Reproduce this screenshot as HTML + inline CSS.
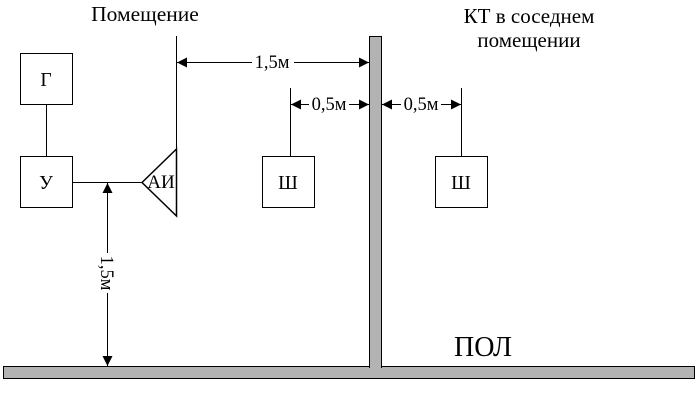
<!DOCTYPE html>
<html><head><meta charset="utf-8"><style>
html,body{margin:0;padding:0;background:#fff;}
svg{display:block;}
text{font-family:"Liberation Serif","DejaVu Serif",serif;fill:#000;}
</style></head><body>
<svg width="698" height="414" viewBox="0 0 698 414" xmlns="http://www.w3.org/2000/svg">
<defs>
<marker id="a" viewBox="0 0 10 10" refX="10" refY="5" markerWidth="10" markerHeight="10" markerUnits="userSpaceOnUse" orient="auto-start-reverse">
<path d="M0,0 L10,5 L0,10 z" fill="#000"/></marker>
</defs>
<rect x="3.5" y="366.5" width="691" height="12" fill="#b3b3b3" stroke="#000" stroke-width="1"/>
<rect x="369.5" y="36.5" width="12" height="331" fill="#b3b3b3" stroke="#000" stroke-width="1"/>
<rect x="370" y="364" width="11" height="4" fill="#b3b3b3"/>
<g fill="#fff" stroke="#000" stroke-width="1">
<rect x="20.5" y="53.5" width="52" height="51"/>
<rect x="20.5" y="156.5" width="52" height="51"/>
<rect x="262.5" y="156.5" width="52" height="51"/>
<rect x="435.5" y="156.5" width="52" height="51"/>
</g>
<g stroke="#000" stroke-width="1" fill="none">
<line x1="46.5" y1="104" x2="46.5" y2="156"/>
<line x1="72" y1="182.5" x2="142" y2="182.5"/>
<line x1="176.5" y1="36" x2="176.5" y2="148"/>
<polygon points="142,182.5 176.5,149 176.5,216" fill="#fff" stroke-width="1.5"/>
<line x1="290.5" y1="88" x2="290.5" y2="156"/>
<line x1="461.5" y1="88" x2="461.5" y2="156"/>
<line x1="177" y1="62.5" x2="369" y2="62.5" marker-start="url(#a)" marker-end="url(#a)"/>
<line x1="291" y1="104.5" x2="369" y2="104.5" marker-start="url(#a)" marker-end="url(#a)"/>
<line x1="382" y1="104.5" x2="461" y2="104.5" marker-start="url(#a)" marker-end="url(#a)"/>
<line x1="107.5" y1="183" x2="107.5" y2="366" marker-start="url(#a)" marker-end="url(#a)"/>
</g>
<rect x="252" y="52" width="42" height="20" fill="#fff"/>
<rect x="309" y="94" width="40" height="20" fill="#fff"/>
<rect x="401" y="94" width="40" height="20" fill="#fff"/>
<rect x="97" y="253" width="20" height="40" fill="#fff"/>
<text x="272" y="68" font-size="18.5" text-anchor="middle">1,5м</text>
<text x="329" y="110" font-size="18.5" text-anchor="middle">0,5м</text>
<text x="421" y="110" font-size="18.5" text-anchor="middle">0,5м</text>
<text transform="translate(101,273) rotate(90)" font-size="18.5" text-anchor="middle">1,5м</text>
<text x="46" y="86" font-size="19.5" text-anchor="middle">Г</text>
<text x="46" y="189" font-size="19.5" text-anchor="middle">У</text>
<text x="161" y="188" font-size="19" text-anchor="middle">АИ</text>
<text x="288" y="189" font-size="19.5" text-anchor="middle">Ш</text>
<text x="461" y="189" font-size="19.5" text-anchor="middle">Ш</text>
<text x="145" y="21" font-size="21.5" text-anchor="middle">Помещение</text>
<text x="529" y="23" font-size="21" text-anchor="middle">КТ в соседнем</text>
<text x="529" y="47" font-size="21" text-anchor="middle">помещении</text>
<text x="483" y="356" font-size="28" text-anchor="middle">ПОЛ</text>
</svg>
</body></html>
